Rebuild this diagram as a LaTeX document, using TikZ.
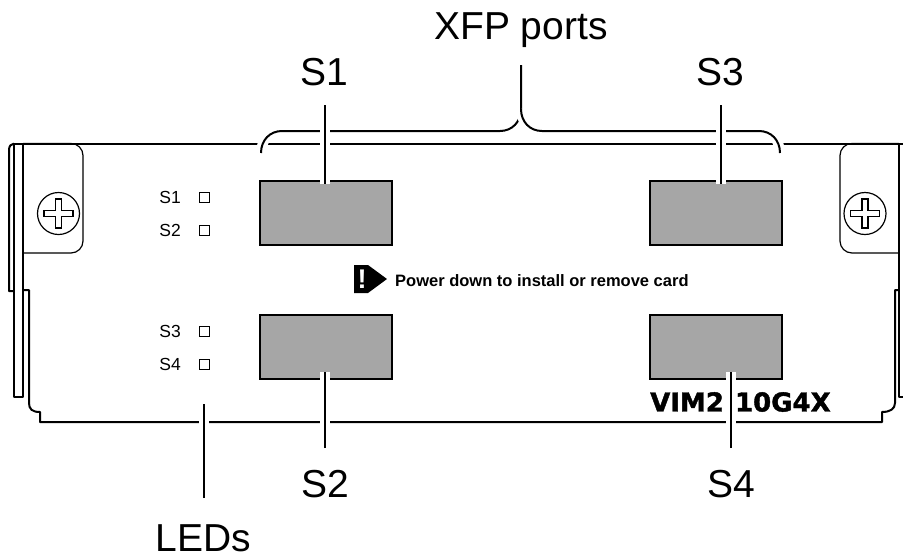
\documentclass[tikz,border=0pt]{standalone}
\usepackage{fontspec}
\setmainfont{Liberation Sans}
\newfontfamily\heavyfont[BoldFont={DejaVu Sans Bold},BoldFeatures={FakeBold=1.5}]{DejaVu Sans}
\usepackage{tikz}
\usetikzlibrary{arrows.meta,positioning,calc}
\definecolor{portgray}{HTML}{A6A6A6}
\tikzset{
  outline/.style={line width=2pt,line join=round},
  thinline/.style={line width=1.2pt},
  port/.style={draw,line width=2pt,fill=portgray,minimum width=132pt,minimum height=64pt,inner sep=0pt},
  led/.style={draw,line width=0.8pt,minimum size=10pt,inner sep=0pt},
  ledlabel/.style={font=\fontsize{17.5}{17.5}\selectfont,inner sep=0pt},
  biglabel/.style={font=\fontsize{39}{39}\selectfont,inner sep=0pt},
  leader/.style={line width=2pt,preaction={draw=white,line width=10pt}},
  screw/.style={draw,circle,line width=1.2pt,minimum size=42pt,inner sep=0pt}
}
\begin{document}
\begin{tikzpicture}[x=1pt,y=-1pt]
  \useasboundingbox (0,0) rectangle (903,558);

  % Card outline
  \draw[outline] (14,143.5) -- (903,143.5);
  \draw[outline] (14,143.5) -- (14,397) -- (23,397) -- (23,143.5);
  \draw[outline] (14,143.5) .. controls (11,144) and (9,146) .. (9,150) -- (9,291) -- (14,291);
  \draw[outline] (23,290) -- (29,290) -- (29,403) .. controls (29,409) and (32,412) .. (40,412) -- (40,422) -- (882,422) -- (882,412) .. controls (890,412) and (895,409) .. (895,403) -- (895,290) -- (899,290);
  \draw[outline] (899,143.5) -- (899,397) -- (903,397);

  % Ears
  \draw[thinline,rounded corners=12pt] (23,143.5) -- (83,143.5) -- (83,253) -- (23,253);
  \draw[thinline,rounded corners=12pt] (899,143.5) -- (840,143.5) -- (840,253) -- (899,253);
  \foreach \name/\cx in {screwl/58.5,screwr/865}{
    \node[screw] (\name) at (\cx,213.5) {};
    \draw[thinline] (\name.center) ++(-3,-14.5) -- ++(6,0) -- ++(0,11.5) -- ++(11.5,0) -- ++(0,6) -- ++(-11.5,0) -- ++(0,11.5) -- ++(-6,0) -- ++(0,-11.5) -- ++(-11.5,0) -- ++(0,-6) -- ++(11.5,0) -- cycle;
  }

  % Ports
  \node[port] (port1) at (325.5,212.5) {};
  \node[port] (port2) at (325.5,346.5) {};
  \node[port] (port3) at (716,212.5) {};
  \node[port] (port4) at (716,346.5) {};

  % LEDs
  \node[led] (led1) at (204.5,197) {};
  \node[led] (led2) at (204.5,230) {};
  \node[led] (led3) at (204.5,331) {};
  \node[led] (led4) at (204.5,364.5) {};
  \node[ledlabel,left=18pt of led1] {S1};
  \node[ledlabel,left=18pt of led2] {S2};
  \node[ledlabel,left=18pt of led3] {S3};
  \node[ledlabel,left=18pt of led4] {S4};

  % Warning
  \fill (354,265) -- (368,265) -- (387,279) -- (368,293) -- (354,293) -- cycle;
  \node[font=\bfseries\fontsize{27}{27}\selectfont,text=white,inner sep=0pt] (bang) at (362,279) {!};
  \node[anchor=west,font=\bfseries\fontsize{16.5}{16.5}\selectfont,inner sep=0pt] (warn) at (395,281) {Power down to install or remove card};

  \node[anchor=west,font=\heavyfont\bfseries\fontsize{26}{26}\selectfont,inner sep=0pt] (model) at (650,402) {VIM2\hspace{2pt} 10G4X};

  % Labels
  \node[biglabel] (xfp) at (521,30) {XFP ports};
  \node[biglabel] (lab1) at (324.5,72) {S1};
  \node[biglabel] (lab3) at (720.5,72) {S3};
  \node[biglabel] (lab2) at (325,484) {S2};
  \node[biglabel] (lab4) at (731,484) {S4};
  \node[biglabel] (labled) at (203.5,538) {LEDs};
  \coordinate (ledend) at (203.5,404);

  % Brace
  \draw[leader] (261,153) .. controls (261,140) and (270,131) .. (282,131) -- (500,131) .. controls (512,131) and (521,122) .. (521,109) -- (xfp.south |- 0,65);
  \draw[leader] (780,153) .. controls (780,140) and (771,131) .. (759,131) -- (542,131) .. controls (530,131) and (521,122) .. (521,109);

  % Leaders
  \draw[leader] (lab1.center |- 0,105) -- (lab1.center |- 0,184);
  \draw[leader] (lab3.center |- 0,105) -- (lab3.center |- 0,184);
  \draw[leader] (lab2.center |- 0,448) -- (lab2.center |- 0,372);
  \draw[leader] (lab4.center |- 0,448) -- (lab4.center |- 0,372);
  \draw[leader] (labled.center |- 0,498) -- (ledend);
\end{tikzpicture}
\end{document}
